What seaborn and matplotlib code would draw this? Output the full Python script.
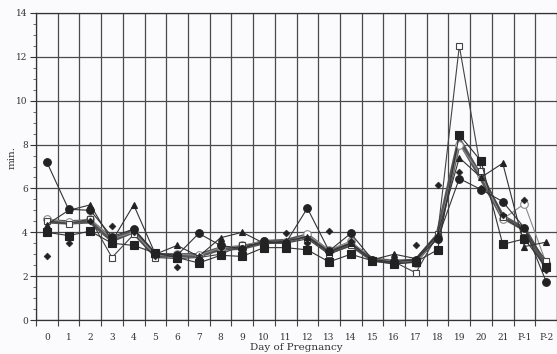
import matplotlib
matplotlib.use("Agg")
import matplotlib.pyplot as plt
from matplotlib.ticker import FixedLocator, MultipleLocator
import numpy as np
import pandas as pd
import seaborn as sns

days = ["0", "1", "2", "3", "4", "5", "6", "7", "8", "9", "10", "11",
        "12", "13", "14", "15", "16", "17", "18", "19", "20", "21", "P-1", "P-2"]

filled_circle = [7.2, 5.05, 5.0, 3.8, 4.15, 3.05, 2.95, 3.95, 3.4, 3.25, 3.6, 3.5,
                 5.1, 3.15, 3.95, 2.75, 2.65, 2.75, 3.7, 6.45, 5.95, 5.4, 4.2, 1.75]
open_square = [4.5, 4.4, 4.6, 2.85, 3.9, 2.85, 2.8, 2.85, 3.0, 3.4, 3.5, 3.5,
               3.7, 3.0, 3.4, 2.7, 2.65, 2.15, 3.9, 12.5, 6.8, 4.7, 4.05, 2.7]
filled_square = [4.0, 3.85, 4.05, 3.5, 3.4, 3.05, 2.85, 2.6, 2.95, 2.9, 3.3, 3.3,
                 3.2, 2.65, 3.0, 2.7, 2.55, 2.65, 3.2, 8.45, 7.25, 3.45, 3.7, 2.4]
triangle = [4.35, 5.0, 5.25, 3.6, 5.25, 3.0, 3.4, 2.9, 3.75, 4.0, 3.5, 3.6,
            3.8, 3.1, 3.5, 2.75, 3.0, 2.8, 3.9, 7.4, 6.5, 7.15, 3.35, 3.55]
diamond = [2.9, 3.5, 4.5, 4.3, 4.0, 2.9, 2.4, 2.8, 3.3, 3.3, 3.5, 3.95,
           3.5, 4.05, 3.6, 2.7, 2.8, 3.4, 6.15, 6.75, 6.0, 4.8, 5.45, 2.3]
open_circle = [4.6, 4.45, 4.6, 3.7, 4.0, 2.95, 3.0, 2.95, 3.3, 3.4, 3.6, 3.55,
               3.9, 3.2, 3.6, 2.75, 2.7, 2.6, 3.8, 8.0, 6.6, 4.6, 5.3, 2.6]
mean_line = [4.5, 4.45, 4.5, 3.65, 4.05, 2.95, 2.95, 2.95, 3.25, 3.3, 3.55, 3.6,
             3.85, 3.1, 3.45, 2.75, 2.65, 2.7, 3.85, 8.2, 6.5, 4.7, 4.15, 2.4]

x = np.arange(len(days))

sns.set_theme(style="white")
plt.rcParams["font.family"] = ["DejaVu Serif"]

fig = plt.figure(figsize=(5.57, 3.54), dpi=100)
fig.patch.set_facecolor("#fbfafc")
ax = fig.add_axes([36 / 557, 34 / 354, 521 / 557, 307 / 354])
ax.set_facecolor("#fbfafc")

# thick mean curve underneath the individual series
sns.lineplot(x=x, y=mean_line, ax=ax, color="#555555", lw=3.2, zorder=3)

line_kw = dict(ax=ax, lw=0.8, zorder=4, markeredgewidth=0.8)
sns.lineplot(x=x, y=open_circle, color="#8a8a8a", marker="o", markersize=5.5,
             markerfacecolor="white", markeredgecolor="#8a8a8a", **line_kw)
sns.lineplot(x=x, y=open_square, color="#444444", marker="s", markersize=5,
             markerfacecolor="white", markeredgecolor="#444444", **line_kw)
sns.lineplot(x=x, y=triangle, color="#333333", marker="^", markersize=5,
             markerfacecolor="#222222", markeredgecolor="#222222", **line_kw)
sns.lineplot(x=x, y=filled_square, color="#333333", marker="s", markersize=5.5,
             markerfacecolor="#222222", markeredgecolor="#222222", **line_kw)
sns.lineplot(x=x, y=filled_circle, color="#333333", marker="o", markersize=5.5,
             markerfacecolor="#222222", markeredgecolor="#222222", **line_kw)
sns.scatterplot(x=x, y=diamond, ax=ax, marker="D", s=13, color="#222222",
                edgecolor="#222222", zorder=5)

ax.set_xlim(-0.5, len(days) - 0.5)
ax.set_ylim(0, 14)

# category labels centred, ticks and grid on the boundaries
ax.set_xticks(x)
ax.set_xticklabels(days)
ax.xaxis.set_minor_locator(FixedLocator(np.arange(-0.5, len(days), 1.0)))
ax.tick_params(axis="x", which="major", length=0, pad=9, labelsize=6.5, colors="#333333")
ax.tick_params(axis="x", which="minor", length=4, width=0.8, direction="out",
               color="#444444", bottom=True)

ax.yaxis.set_major_locator(MultipleLocator(2))
ax.yaxis.set_minor_locator(MultipleLocator(0.5))
ax.tick_params(axis="y", which="major", length=4, width=0.8, direction="out",
               labelsize=6.5, colors="#333333", left=True, pad=2)
ax.tick_params(axis="y", which="minor", length=2, width=0.6, direction="out",
               color="#555555", left=True)

ax.grid(False)
ax.xaxis.grid(True, which="minor", color="#4a4a4a", lw=0.9)
ax.yaxis.grid(True, which="major", color="#4a4a4a", lw=0.9)
ax.set_axisbelow(True)

for side in ["left", "bottom", "top", "right"]:
    ax.spines[side].set_visible(True)
    ax.spines[side].set_color("#333333")
    ax.spines[side].set_linewidth(0.9)

ax.set_xlabel("Day of Pregnancy", fontsize=7.5, color="#333333", labelpad=1)
ax.set_ylabel("min.", fontsize=7.5, color="#333333")
ax.yaxis.set_label_coords(-0.037, 0.53)

fig.savefig("out.png", dpi=100, facecolor=fig.get_facecolor())
